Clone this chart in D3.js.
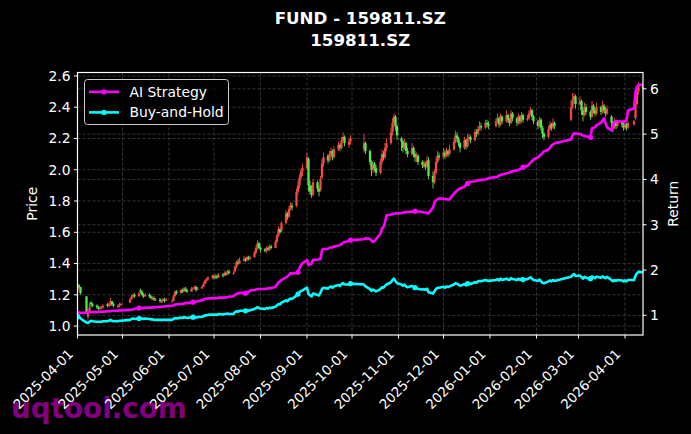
<!DOCTYPE html>
<html><head><meta charset="utf-8">
<script src="https://cdn.jsdelivr.net/npm/d3@7/dist/d3.min.js"></script>
<style>html,body{margin:0;padding:0;background:#000;}svg{display:block;}</style>
</head><body>
<script>
const dates = [
"2025-04-01","2025-04-02","2025-04-03","2025-04-07","2025-04-08","2025-04-09","2025-04-10","2025-04-11","2025-04-14","2025-04-15",
"2025-04-16","2025-04-17","2025-04-18","2025-04-21","2025-04-22","2025-04-23","2025-04-24","2025-04-25","2025-04-28","2025-04-29",
"2025-04-30","2025-05-06","2025-05-07","2025-05-08","2025-05-09","2025-05-12","2025-05-13","2025-05-14","2025-05-15","2025-05-16",
"2025-05-19","2025-05-20","2025-05-21","2025-05-22","2025-05-23","2025-05-26","2025-05-27","2025-05-28","2025-05-29","2025-05-30",
"2025-06-03","2025-06-04","2025-06-05","2025-06-06","2025-06-09","2025-06-10","2025-06-11","2025-06-12","2025-06-13","2025-06-16",
"2025-06-17","2025-06-18","2025-06-19","2025-06-20","2025-06-23","2025-06-24","2025-06-25","2025-06-26","2025-06-27","2025-06-30",
"2025-07-01","2025-07-02","2025-07-03","2025-07-04","2025-07-07","2025-07-08","2025-07-09","2025-07-10","2025-07-11","2025-07-14",
"2025-07-15","2025-07-16","2025-07-17","2025-07-18","2025-07-21","2025-07-22","2025-07-23","2025-07-24","2025-07-25","2025-07-28",
"2025-07-29","2025-07-30","2025-07-31","2025-08-01","2025-08-04","2025-08-05","2025-08-06","2025-08-07","2025-08-08","2025-08-11",
"2025-08-12","2025-08-13","2025-08-14","2025-08-15","2025-08-18","2025-08-19","2025-08-20","2025-08-21","2025-08-22","2025-08-25",
"2025-08-26","2025-08-27","2025-08-28","2025-08-29","2025-09-01","2025-09-02","2025-09-03","2025-09-04","2025-09-05","2025-09-08",
"2025-09-09","2025-09-10","2025-09-11","2025-09-12","2025-09-15","2025-09-16","2025-09-17","2025-09-18","2025-09-19","2025-09-22",
"2025-09-23","2025-09-24","2025-09-25","2025-09-26","2025-09-29","2025-09-30","2025-10-09","2025-10-10","2025-10-13","2025-10-14",
"2025-10-15","2025-10-16","2025-10-17","2025-10-20","2025-10-21","2025-10-22","2025-10-23","2025-10-24","2025-10-27","2025-10-28",
"2025-10-29","2025-10-30","2025-10-31","2025-11-03","2025-11-04","2025-11-05","2025-11-06","2025-11-07","2025-11-10","2025-11-11",
"2025-11-12","2025-11-13","2025-11-14","2025-11-17","2025-11-18","2025-11-19","2025-11-20","2025-11-21","2025-11-24","2025-11-25",
"2025-11-26","2025-11-27","2025-11-28","2025-12-01","2025-12-02","2025-12-03","2025-12-04","2025-12-05","2025-12-08","2025-12-09",
"2025-12-10","2025-12-11","2025-12-12","2025-12-15","2025-12-16","2025-12-17","2025-12-18","2025-12-19","2025-12-22","2025-12-23",
"2025-12-24","2025-12-25","2025-12-26","2025-12-29","2025-12-30","2025-12-31","2026-01-05","2026-01-06","2026-01-07","2026-01-08",
"2026-01-09","2026-01-12","2026-01-13","2026-01-14","2026-01-15","2026-01-16","2026-01-19","2026-01-20","2026-01-21","2026-01-22",
"2026-01-23","2026-01-26","2026-01-27","2026-01-28","2026-01-29","2026-01-30","2026-02-02","2026-02-03","2026-02-04","2026-02-05",
"2026-02-06","2026-02-09","2026-02-10","2026-02-11","2026-02-12","2026-02-13","2026-02-24","2026-02-25","2026-02-26","2026-02-27",
"2026-03-02","2026-03-03","2026-03-04","2026-03-05","2026-03-06","2026-03-09","2026-03-10","2026-03-11","2026-03-12","2026-03-13",
"2026-03-16","2026-03-17","2026-03-18","2026-03-19","2026-03-20","2026-03-23","2026-03-24","2026-03-25","2026-03-26","2026-03-27",
"2026-03-30","2026-03-31","2026-04-01","2026-04-02","2026-04-03","2026-04-07","2026-04-08","2026-04-09","2026-04-10","2026-04-13"];

const openP = [
1.22,1.26,1.25,1.19,1.06,1.09,1.15,1.14,1.13,1.12, 1.11,1.12,1.12,1.14,1.13,1.13,1.16,1.14,1.12,1.13,
1.14,1.15,1.17,1.19,1.20,1.19,1.23,1.22,1.20,1.19, 1.20,1.19,1.17,1.18,1.17,1.17,1.15,1.16,1.17,1.16,
1.16,1.16,1.19,1.22,1.21,1.23,1.22,1.24,1.23,1.22, 1.24,1.24,1.25,1.23,1.24,1.25,1.27,1.29,1.30,1.31,
1.32,1.31,1.32,1.31,1.33,1.32,1.34,1.33,1.35,1.34, 1.35,1.38,1.41,1.40,1.42,1.43,1.42,1.44,1.43,1.44,
1.47,1.50,1.53,1.50,1.49,1.48,1.50,1.49,1.51,1.50, 1.54,1.58,1.62,1.61,1.66,1.72,1.70,1.75,1.77,1.77,
1.86,1.90,1.95,1.99,2.01,2.07,1.90,1.88,1.84,1.92, 1.88,1.87,1.95,2.04,2.09,2.06,2.10,2.12,2.08,2.13,
2.16,2.14,2.19,2.21,2.16,2.18,2.13,2.17,2.12,2.05, 2.00,2.04,2.01,1.98,2.05,2.10,2.08,2.14,2.17,2.24,
2.30,2.34,2.28,2.20,2.18,2.14,2.17,2.12,2.10,2.14, 2.10,2.07,2.09,2.05,2.02,2.04,2.02,2.06,1.96,1.92,
1.98,2.05,2.09,2.08,2.11,2.09,2.12,2.10,2.13,2.18, 2.22,2.20,2.17,2.14,2.19,2.15,2.20,2.21,2.19,2.24,
2.23,2.26,2.28,2.27,2.30,2.29,2.28,2.31,2.33,2.29, 2.34,2.31,2.35,2.32,2.30,2.36,2.33,2.30,2.34,2.31,
2.35,2.32,2.33,2.36,2.38,2.34,2.31,2.28,2.32,2.27, 2.23,2.21,2.26,2.29,2.27,2.30,2.32,2.40,2.45,2.47,
2.42,2.44,2.38,2.35,2.40,2.37,2.34,2.41,2.38,2.36, 2.40,2.37,2.41,2.38,2.36,2.34,2.30,2.27,2.31,2.28,
2.30,2.29,2.27,2.29,2.27,2.29,2.33,2.42,2.50,2.54];

const highP = [
1.27,1.27,1.25,1.19,1.10,1.15,1.16,1.15,1.14,1.13, 1.13,1.13,1.14,1.15,1.15,1.18,1.16,1.15,1.14,1.15,
1.15,1.18,1.20,1.21,1.21,1.22,1.24,1.23,1.21,1.21, 1.21,1.20,1.19,1.19,1.18,1.18,1.17,1.18,1.18,1.18,
1.17,1.20,1.23,1.23,1.24,1.24,1.25,1.25,1.24,1.25, 1.25,1.26,1.26,1.25,1.26,1.28,1.30,1.31,1.32,1.33,
1.33,1.33,1.33,1.34,1.34,1.35,1.35,1.36,1.36,1.35, 1.39,1.42,1.43,1.44,1.45,1.44,1.45,1.45,1.45,1.48,
1.52,1.55,1.54,1.51,1.50,1.51,1.51,1.52,1.52,1.55, 1.59,1.64,1.63,1.67,1.74,1.73,1.77,1.79,1.79,1.88,
1.93,1.97,2.01,2.04,2.11,2.08,1.93,1.90,1.94,1.93, 1.90,1.96,2.07,2.11,2.10,2.12,2.14,2.13,2.15,2.18,
2.17,2.21,2.24,2.22,2.20,2.22,2.23,2.18,2.13,2.06, 2.06,2.05,2.03,2.07,2.13,2.12,2.17,2.20,2.27,2.33,
2.36,2.35,2.29,2.21,2.19,2.20,2.18,2.14,2.17,2.15, 2.12,2.11,2.10,2.06,2.06,2.05,2.09,2.08,1.99,2.00,
2.08,2.12,2.11,2.14,2.13,2.14,2.13,2.16,2.20,2.25, 2.24,2.21,2.18,2.21,2.20,2.23,2.23,2.22,2.26,2.26,
2.28,2.31,2.30,2.32,2.32,2.31,2.33,2.36,2.34,2.36, 2.35,2.38,2.36,2.33,2.38,2.37,2.34,2.36,2.35,2.37,
2.36,2.35,2.38,2.40,2.39,2.35,2.32,2.34,2.33,2.28, 2.24,2.28,2.31,2.30,2.33,2.31,2.44,2.49,2.49,2.48,
2.47,2.45,2.40,2.43,2.42,2.38,2.44,2.42,2.40,2.43, 2.41,2.44,2.42,2.40,2.41,2.35,2.31,2.33,2.32,2.32,
2.31,2.30,2.31,2.30,2.31,2.32,2.45,2.53,2.56,2.55];

const lowP = [
1.21,1.24,1.20,1.08,1.04,1.09,1.12,1.12,1.11,1.10, 1.10,1.11,1.11,1.12,1.12,1.13,1.13,1.12,1.12,1.12,
1.13,1.15,1.17,1.18,1.18,1.19,1.21,1.19,1.18,1.19, 1.18,1.17,1.17,1.16,1.16,1.15,1.15,1.16,1.15,1.16,
1.15,1.16,1.19,1.20,1.21,1.21,1.22,1.22,1.21,1.22, 1.23,1.24,1.22,1.23,1.24,1.25,1.27,1.28,1.29,1.30,
1.30,1.30,1.30,1.31,1.31,1.32,1.32,1.33,1.33,1.33, 1.34,1.37,1.39,1.40,1.41,1.41,1.42,1.42,1.42,1.44,
1.46,1.49,1.49,1.47,1.47,1.47,1.48,1.48,1.49,1.50, 1.53,1.57,1.59,1.60,1.65,1.68,1.69,1.74,1.74,1.76,
1.84,1.88,1.93,1.96,2.00,1.86,1.84,1.82,1.83,1.86, 1.83,1.86,1.94,2.02,2.04,2.05,2.08,2.06,2.07,2.12,
2.12,2.13,2.18,2.15,2.14,2.16,2.11,2.10,2.03,1.96, 1.98,1.99,1.96,1.97,2.03,2.06,2.07,2.12,2.16,2.22,
2.27,2.25,2.19,2.12,2.11,2.13,2.10,2.08,2.09,2.08, 2.05,2.05,2.03,2.01,2.01,2.00,2.01,1.94,1.88,1.91,
1.97,2.04,2.06,2.07,2.07,2.08,2.08,2.09,2.12,2.17, 2.18,2.15,2.11,2.13,2.13,2.14,2.18,2.17,2.18,2.21,
2.22,2.25,2.25,2.26,2.27,2.26,2.27,2.30,2.27,2.28, 2.29,2.30,2.30,2.28,2.29,2.31,2.28,2.29,2.29,2.30,
2.30,2.31,2.32,2.35,2.32,2.29,2.26,2.27,2.25,2.20, 2.19,2.20,2.25,2.25,2.26,2.26,2.31,2.39,2.42,2.39,
2.41,2.35,2.31,2.34,2.35,2.32,2.33,2.36,2.34,2.35, 2.35,2.36,2.36,2.34,2.35,2.27,2.24,2.26,2.26,2.27,
2.27,2.25,2.26,2.25,2.26,2.28,2.32,2.41,2.48,2.50];

const closeP = [
1.26,1.25,1.21,1.09,1.08,1.12,1.14,1.13,1.12,1.11, 1.12,1.12,1.13,1.13,1.14,1.16,1.14,1.13,1.13,1.14,
1.14,1.17,1.19,1.20,1.19,1.21,1.22,1.20,1.19,1.20, 1.19,1.18,1.18,1.17,1.17,1.16,1.16,1.17,1.16,1.17,
1.16,1.19,1.22,1.21,1.23,1.22,1.24,1.23,1.22,1.24, 1.24,1.25,1.23,1.24,1.25,1.27,1.29,1.30,1.31,1.32,
1.31,1.32,1.31,1.33,1.32,1.34,1.33,1.35,1.34,1.34, 1.38,1.41,1.40,1.42,1.43,1.42,1.44,1.43,1.44,1.47,
1.50,1.53,1.50,1.49,1.48,1.50,1.49,1.51,1.50,1.54, 1.58,1.62,1.60,1.66,1.72,1.70,1.75,1.77,1.76,1.86,
1.90,1.95,1.99,2.01,2.08,1.90,1.86,1.84,1.92,1.88, 1.86,1.94,2.04,2.08,2.06,2.10,2.12,2.08,2.13,2.16,
2.14,2.19,2.21,2.17,2.18,2.20,2.17,2.12,2.05,2.00, 2.03,2.01,1.98,2.05,2.10,2.08,2.14,2.17,2.24,2.30,
2.34,2.28,2.22,2.18,2.14,2.17,2.12,2.10,2.14,2.10, 2.08,2.09,2.05,2.03,2.04,2.02,2.06,1.96,1.92,1.98,
2.05,2.09,2.08,2.11,2.09,2.12,2.10,2.13,2.18,2.22, 2.20,2.17,2.14,2.19,2.15,2.20,2.21,2.19,2.24,2.23,
2.26,2.28,2.27,2.30,2.29,2.28,2.31,2.33,2.29,2.34, 2.31,2.35,2.32,2.30,2.36,2.33,2.30,2.34,2.31,2.35,
2.32,2.33,2.36,2.38,2.34,2.31,2.28,2.32,2.27,2.23, 2.21,2.26,2.29,2.27,2.30,2.28,2.40,2.45,2.47,2.42,
2.44,2.38,2.35,2.40,2.37,2.34,2.41,2.38,2.36,2.40, 2.37,2.41,2.38,2.36,2.39,2.30,2.27,2.31,2.28,2.30,
2.29,2.27,2.29,2.27,2.30,2.31,2.42,2.50,2.54,2.52];

const aiReturn = [
1.05,1.05,1.05,1.06,1.06,1.07,1.07,1.07,1.07,1.08, 1.08,1.08,1.08,1.09,1.09,1.09,1.10,1.10,1.10,1.11,
1.11,1.12,1.13,1.13,1.14,1.16,1.16,1.16,1.16,1.17, 1.17,1.17,1.17,1.18,1.18,1.19,1.19,1.19,1.20,1.20,
1.21,1.22,1.24,1.24,1.25,1.25,1.26,1.27,1.27,1.28, 1.29,1.30,1.30,1.31,1.33,1.35,1.36,1.37,1.37,1.38,
1.38,1.38,1.38,1.39,1.39,1.39,1.40,1.40,1.41,1.42, 1.45,1.47,1.48,1.50,1.49,1.49,1.50,1.51,1.55,1.56,
1.57,1.58,1.58,1.58,1.58,1.59,1.59,1.60,1.60,1.63, 1.68,1.73,1.75,1.78,1.84,1.86,1.89,1.93,1.92,1.94,
1.95,2.05,2.11,2.15,2.22,2.11,2.12,2.14,2.22,2.23, 2.24,2.24,2.44,2.46,2.47,2.49,2.50,2.50,2.52,2.54,
2.55,2.57,2.60,2.62,2.64,2.66,2.68,2.70,2.69,2.65, 2.62,2.64,2.68,2.80,2.92,2.95,3.05,3.21,3.22,3.24,
3.24,3.25,3.25,3.26,3.27,3.27,3.28,3.28,3.29,3.29, 3.30,3.30,3.29,3.28,3.27,3.27,3.26,3.25,3.38,3.50,
3.54,3.56,3.58,3.58,3.57,3.56,3.56,3.56,3.69,3.72, 3.75,3.78,3.80,3.84,3.88,3.91,3.93,3.95,3.96,3.97,
3.98,3.98,3.99,4.00,4.01,4.03,4.05,4.06,4.09,4.10, 4.11,4.13,4.14,4.15,4.17,4.18,4.20,4.21,4.23,4.24,
4.27,4.30,4.33,4.37,4.40,4.44,4.49,4.52,4.55,4.58, 4.62,4.66,4.70,4.75,4.77,4.80,4.88,4.97,5.02,5.01,
5.00,4.99,4.97,4.96,4.95,4.93,5.13,5.14,5.15,5.20, 5.25,5.30,5.35,5.25,5.15,5.08,5.20,5.28,5.28,5.28,
5.28,5.27,5.28,5.30,5.52,5.57,5.92,6.05,6.09,6.09];

const bhReturn = [
0.97,0.97,0.93,0.84,0.83,0.86,0.88,0.87,0.86,0.86, 0.86,0.86,0.87,0.87,0.88,0.90,0.88,0.87,0.87,0.88,
0.88,0.90,0.92,0.93,0.92,0.93,0.94,0.93,0.92,0.93, 0.92,0.91,0.91,0.90,0.90,0.90,0.90,0.90,0.90,0.90,
0.90,0.92,0.94,0.93,0.95,0.94,0.96,0.95,0.94,0.96, 0.96,0.97,0.95,0.96,0.97,0.98,1.00,1.00,1.01,1.02,
1.01,1.02,1.01,1.03,1.02,1.03,1.03,1.04,1.03,1.03, 1.07,1.09,1.08,1.10,1.10,1.10,1.11,1.10,1.11,1.14,
1.16,1.18,1.16,1.15,1.14,1.16,1.15,1.17,1.16,1.19, 1.22,1.25,1.24,1.28,1.33,1.31,1.35,1.37,1.36,1.44,
1.47,1.51,1.54,1.55,1.61,1.47,1.44,1.42,1.48,1.45, 1.44,1.50,1.58,1.61,1.59,1.62,1.64,1.61,1.64,1.67,
1.65,1.69,1.71,1.68,1.68,1.70,1.68,1.64,1.58,1.54, 1.57,1.55,1.53,1.58,1.62,1.61,1.65,1.68,1.73,1.78,
1.81,1.76,1.71,1.68,1.65,1.68,1.64,1.62,1.65,1.62, 1.61,1.61,1.58,1.57,1.58,1.56,1.59,1.51,1.48,1.53,
1.58,1.61,1.61,1.63,1.61,1.64,1.62,1.64,1.68,1.71, 1.70,1.68,1.65,1.69,1.66,1.70,1.71,1.69,1.73,1.72,
1.75,1.76,1.75,1.78,1.77,1.76,1.78,1.80,1.77,1.81, 1.78,1.81,1.79,1.78,1.82,1.80,1.78,1.81,1.78,1.81,
1.79,1.80,1.82,1.84,1.81,1.78,1.76,1.79,1.75,1.72, 1.71,1.75,1.77,1.75,1.78,1.76,1.85,1.89,1.91,1.87,
1.88,1.84,1.81,1.85,1.83,1.81,1.86,1.84,1.82,1.85, 1.83,1.86,1.84,1.82,1.85,1.78,1.75,1.78,1.76,1.78,
1.77,1.75,1.77,1.75,1.78,1.78,1.87,1.93,1.96,1.95];

const priceTicks = [1.0,1.2,1.4,1.6,1.8,2.0,2.2,2.4,2.6];
const returnTicks = [1,2,3,4,5,6];
const monthTicks = ["2025-04-01","2025-05-01","2025-06-01","2025-07-01","2025-08-01","2025-09-01","2025-10-01",
  "2025-11-01","2025-12-01","2026-01-01","2026-02-01","2026-03-01","2026-04-01"];
const titleLines = ["FUND - 159811.SZ","159811.SZ"];
const seriesNames = ["AI Strategy","Buy-and-Hold"];
const seriesColors = ["#ff00ff","#00ffff"];

const W = 691, H = 434;
const L = 77.5, R = 643, T = 72.5, B = 335;
const parse = d3.utcParse("%Y-%m-%d");
const n = Math.min(dates.length, openP.length, highP.length, lowP.length, closeP.length, aiReturn.length, bhReturn.length);
const rows = d3.range(n).map(i => ({d: parse(dates[i]), o: openP[i], h: highP[i], l: lowP[i], c: closeP[i], ai: aiReturn[i], bh: bhReturn[i], i}));

const x = d3.scaleUtc().domain([parse("2025-04-01"), parse("2026-04-13")]).range([L, R]);
const yP = d3.scaleLinear().domain([0.943, 2.622]).range([B, T]);
const yR = d3.scaleLinear().domain([0.566, 6.36]).range([B, T]);

const svg = d3.select("body").append("svg").attr("width", W).attr("height", H)
  .style("font-family", "'DejaVu Sans', sans-serif");
svg.append("rect").attr("width", W).attr("height", H).attr("fill", "#000");

svg.append("defs").append("clipPath").attr("id", "plot")
  .append("rect").attr("x", L).attr("y", T).attr("width", R - L).attr("height", B - T);

// grids
const grid = svg.append("g").attr("stroke", "#4a4a4a").attr("stroke-width", 0.7).attr("stroke-dasharray", "3,2");
monthTicks.forEach(t => { const xx = x(parse(t)); grid.append("line").attr("x1", xx).attr("x2", xx).attr("y1", T).attr("y2", B); });
priceTicks.forEach(t => grid.append("line").attr("x1", L).attr("x2", R).attr("y1", yP(t)).attr("y2", yP(t)));
returnTicks.forEach(t => grid.append("line").attr("x1", L).attr("x2", R).attr("y1", yR(t)).attr("y2", yR(t)));

// candles
const up = "#ee4b43", down = "#55e84c";
const cg = svg.append("g").attr("clip-path", "url(#plot)");
const bw = 2.3;
cg.selectAll("line.wick").data(rows).join("line")
  .attr("x1", r => x(r.d)).attr("x2", r => x(r.d))
  .attr("y1", r => yP(r.h)).attr("y2", r => yP(r.l))
  .attr("stroke", r => r.c >= r.o ? up : down).attr("stroke-width", 0.9);
cg.selectAll("rect.body").data(rows).join("rect")
  .attr("x", r => x(r.d) - bw / 2).attr("width", bw)
  .attr("y", r => yP(Math.max(r.o, r.c)))
  .attr("height", r => Math.max(0.8, Math.abs(yP(r.o) - yP(r.c))))
  .attr("fill", r => r.c >= r.o ? up : down);

// return lines
const lg = svg.append("g").attr("clip-path", "url(#plot)");
const keys = ["ai", "bh"];
keys.forEach((k, j) => {
  const line = d3.line().x(r => x(r.d)).y(r => yR(r[k]));
  lg.append("path").datum(rows).attr("d", line).attr("fill", "none")
    .attr("stroke", seriesColors[j]).attr("stroke-width", 2.6).attr("stroke-linejoin", "round");
  lg.selectAll("circle.m" + k).data(rows.filter(r => r.i % 25 === 0)).join("circle")
    .attr("cx", r => x(r.d)).attr("cy", r => yR(r[k])).attr("r", 2.6).attr("fill", seriesColors[j]);
});

// spines
svg.append("rect").attr("x", L).attr("y", T).attr("width", R - L).attr("height", B - T)
  .attr("fill", "none").attr("stroke", "#fff").attr("stroke-width", 1.2);

// watermark
svg.append("text").attr("x", 11).attr("y", 418).attr("fill", "#800080")
  .attr("font-size", 27.8).attr("font-weight", "bold").text("uqtool.com");

const fs = 13.9, fsx = 13.4;
// left ticks
const lt = svg.append("g");
priceTicks.forEach(t => {
  lt.append("line").attr("x1", L - 3.5).attr("x2", L).attr("y1", yP(t)).attr("y2", yP(t)).attr("stroke", "#fff").attr("stroke-width", 1);
  lt.append("text").attr("x", L - 7).attr("y", yP(t)).attr("dy", "0.35em").attr("text-anchor", "end")
    .attr("fill", "#fff").attr("font-size", fs).text(d3.format(".1f")(t));
});
// right ticks
returnTicks.forEach(t => {
  lt.append("line").attr("x1", R).attr("x2", R + 3.5).attr("y1", yR(t)).attr("y2", yR(t)).attr("stroke", "#fff").attr("stroke-width", 1);
  lt.append("text").attr("x", R + 7).attr("y", yR(t)).attr("dy", "0.35em").attr("text-anchor", "start")
    .attr("fill", "#fff").attr("font-size", fs).text(d3.format("d")(t));
});
// bottom ticks
const fmt = d3.utcFormat("%Y-%m-%d");
monthTicks.forEach(t => {
  const xx = x(parse(t));
  lt.append("line").attr("x1", xx).attr("x2", xx).attr("y1", B).attr("y2", B + 3.5).attr("stroke", "#fff").attr("stroke-width", 1);
  lt.append("text").attr("transform", `translate(${xx - 3.5},${B + 20}) rotate(-45)`)
    .attr("text-anchor", "end").attr("fill", "#fff").attr("font-size", fsx).text(fmt(parse(t)));
});

// axis labels
svg.append("text").attr("transform", `translate(37,${(T + B) / 2}) rotate(-90)`).attr("text-anchor", "middle")
  .attr("fill", "#fff").attr("font-size", fs).text("Price");
svg.append("text").attr("transform", `translate(678,${(T + B) / 2}) rotate(-90)`).attr("text-anchor", "middle")
  .attr("fill", "#fff").attr("font-size", fs).text("Return");

// title
const tt = svg.append("text").attr("text-anchor", "middle").attr("fill", "#fff")
  .attr("font-size", 16.67).attr("font-weight", "bold");
titleLines.forEach((s, i) => tt.append("tspan").attr("x", (L + R) / 2).attr("y", 24 + i * 21.7).text(s));

// legend
const lgd = svg.append("g");
lgd.append("rect").attr("x", 84.5).attr("y", 79.5).attr("width", 144).attr("height", 45).attr("rx", 3)
  .attr("fill", "#000").attr("fill-opacity", 0.8).attr("stroke", "#cccccc").attr("stroke-width", 1);
seriesNames.forEach((s, j) => {
  const yy = 91.8 + j * 20.6;
  lgd.append("line").attr("x1", 89).attr("x2", 119).attr("y1", yy).attr("y2", yy)
    .attr("stroke", seriesColors[j]).attr("stroke-width", 2.6);
  lgd.append("circle").attr("cx", 104).attr("cy", yy).attr("r", 2.6).attr("fill", seriesColors[j]);
  lgd.append("text").attr("x", 129.5).attr("y", yy).attr("dy", "0.35em").attr("fill", "#fff")
    .attr("font-size", fs).text(s);
});
</script>
</body></html>
